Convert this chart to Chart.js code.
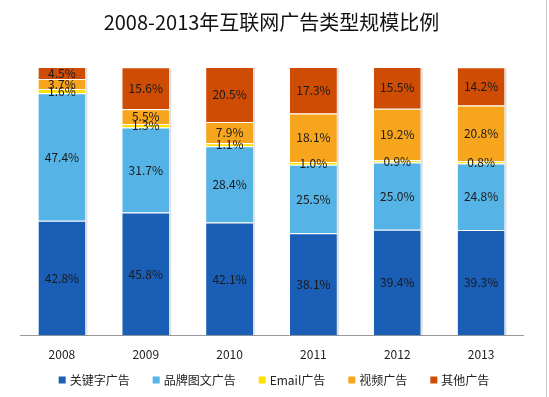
<!DOCTYPE html>
<html>
<head>
<meta charset="utf-8">
<script src="https://cdn.jsdelivr.net/npm/chart.js@4"></script>
<style>
html,body{margin:0;padding:0;background:#fff;}
#wrap{position:relative;width:549px;height:397px;}
#wrap:after{content:"";position:absolute;left:546px;top:0;width:1px;height:397px;background:#c8c8c8;}
</style>
</head>
<body>
<div id="wrap"><canvas id="c" width="549" height="397"></canvas></div>
<script>
const categories = ['2008','2009','2010','2011','2012','2013'];
const seriesNames = ['关键字广告','品牌图文广告','Email广告','视频广告','其他广告'];
const keyword = [42.8, 45.8, 42.1, 38.1, 39.4, 39.3];
const brand   = [47.4, 31.7, 28.4, 25.5, 25.0, 24.8];
const email   = [1.6, 1.3, 1.1, 1.0, 0.9, 0.8];
const video   = [3.7, 5.5, 7.9, 18.1, 19.2, 20.8];
const other   = [4.5, 15.6, 20.5, 17.3, 15.5, 14.2];
const colors  = ['#1A5EB5', '#55B3E6', '#FFE000', '#F8A51E', '#CF4C05'];
const seriesValues = [keyword, brand, email, video, other];

const FONT = '"Noto Sans CJK SC", "Noto Sans", sans-serif';

const labelPlugin = {
  id: 'segLabels',
  afterDatasetsDraw(chart) {
    const ctx = chart.ctx;
    ctx.save();
    ctx.font = '12px ' + FONT;
    ctx.fillStyle = '#1a1a1a';
    ctx.textAlign = 'center';
    ctx.textBaseline = 'middle';
    chart.data.datasets.forEach((ds, i) => {
      const meta = chart.getDatasetMeta(i);
      meta.data.forEach((bar, j) => {
        const y = (bar.y + bar.base) / 2;
        ctx.fillText(ds.data[j].toFixed(1) + '%', bar.x, y);
      });
    });
    ctx.restore();
  }
};

const shadowPlugin = {
  id: 'barShadow',
  beforeDatasetsDraw(chart) {
    const ctx = chart.ctx;
    ctx.save();
    ctx.fillStyle = 'rgba(0,0,0,0.12)';
    const metas = chart.data.datasets.map((d, i) => chart.getDatasetMeta(i));
    metas[0].data.forEach((bar, j) => {
      const top = metas[metas.length - 1].data[j].y;
      const half = bar.width / 2;
      ctx.fillRect(bar.x + half, top + 1, 2, bar.base - top - 1);
    });
    ctx.restore();
  }
};

const legendPlugin = {
  id: 'bottomLegend',
  afterDraw(chart) {
    const ctx = chart.ctx;
    ctx.save();
    ctx.font = '12px ' + FONT;
    ctx.textBaseline = 'middle';
    ctx.textAlign = 'left';
    const box = 7, gapBox = 4, gapItem = 23;
    const items = chart.data.datasets.map(ds => ({
      text: ds.label, color: ds.backgroundColor, w: box + gapBox + ctx.measureText(ds.label).width
    }));
    const total = items.reduce((s, it) => s + it.w, 0) + gapItem * (items.length - 1);
    let x = (chart.width - 1 - total) / 2;
    const y = 380;
    items.forEach(it => {
      ctx.fillStyle = it.color;
      ctx.fillRect(x, y - box / 2, box, box);
      ctx.fillStyle = '#222';
      ctx.fillText(it.text, x + box + gapBox, y);
      x += it.w + gapItem;
    });
    ctx.restore();
  }
};

new Chart(document.getElementById('c'), {
  type: 'bar',
  data: {
    labels: categories,
    datasets: seriesValues.map((vals, i) => ({
      label: seriesNames[i],
      data: vals,
      backgroundColor: colors[i],
      borderColor: '#ffffff',
      borderWidth: {top: 1, bottom: 0, left: 0, right: 0},
      borderSkipped: false,
      barPercentage: 0.56,
      categoryPercentage: 1
    }))
  },
  options: {
    responsive: false,
    animation: false,
    layout: {padding: {left: 20, right: 26, top: 0, bottom: 31}},
    plugins: {
      title: {
        display: true,
        text: '2008-2013年互联网广告类型规模比例',
        color: '#111',
        font: {family: FONT, size: 20, weight: 'normal'},
        padding: {top: 10, bottom: 33}
      },
      legend: {display: false},
      tooltip: {enabled: false}
    },
    scales: {
      x: {
        stacked: true,
        grid: {display: false},
        border: {color: '#9a9a9a'},
        ticks: {color: '#222', font: {family: FONT, size: 12}, padding: 4}
      },
      y: {
        stacked: true,
        display: false,
        min: 0,
        max: 100
      }
    }
  },
  plugins: [shadowPlugin, labelPlugin, legendPlugin]
});
</script>
</body>
</html>
